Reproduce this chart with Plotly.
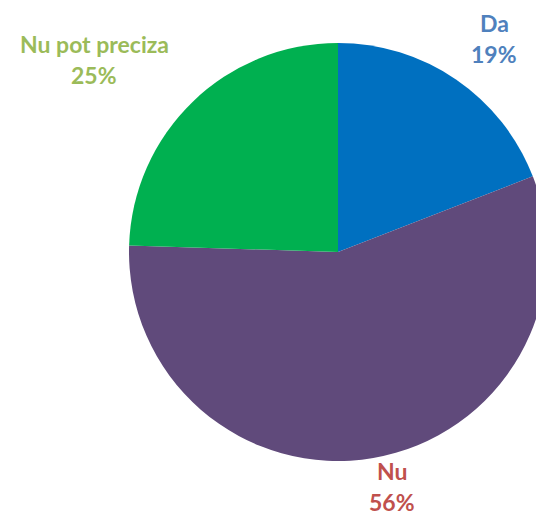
import math
import plotly.graph_objects as go

labels = ["Da", "Nu", "Nu pot preciza"]
values = [19.1, 56.4, 24.5]
slice_colors = ["#0070C0", "#604A7B", "#00B050"]
label_colors = ["#4F81BD", "#C0504D", "#9BBB59"]

W, H = 544, 517
OFF = 8  # page body margin offset
cx, cy, r = 338 - OFF, 252 - OFF, 209  # pixel centre / radius of pie (figure coords)

fig = go.Figure(go.Pie(
    labels=labels,
    values=values,
    marker=dict(colors=slice_colors, line=dict(width=0)),
    sort=False,
    direction="clockwise",
    rotation=0,
    textinfo="none",
    hoverinfo="label+percent",
    domain=dict(x=[(cx - r) / W, (cx + r) / W],
                y=[(H - cy - r) / H, (H - cy + r) / H]),
    showlegend=False,
))

total = sum(values)
pct = [f"{math.floor(v / total * 100 + 0.5)}%" for v in values]
# label anchor positions (page pixels, centre of first line)
label_pos = [(494, 23), (392, 471), (94, 44)]
pitch = 31
font_family = "Lato, 'Open Sans', sans-serif"
ann = []
for lab, p, col, (x, y) in zip(labels, pct, label_colors, label_pos):
    for i, t in enumerate([lab, p]):
        ann.append(dict(
            x=(x - OFF) / W, y=1 - (y - OFF + i * pitch) / H,
            xref="paper", yref="paper",
            text=f"<b>{t}</b>", showarrow=False,
            xanchor="center", yanchor="middle",
            borderpad=0,
            font=dict(family=font_family, size=23, color=col),
        ))

fig.update_layout(
    width=W, height=H,
    margin=dict(l=0, r=0, t=0, b=0),
    paper_bgcolor="white", plot_bgcolor="white",
    annotations=ann,
)
fig.write_html("out.html")
